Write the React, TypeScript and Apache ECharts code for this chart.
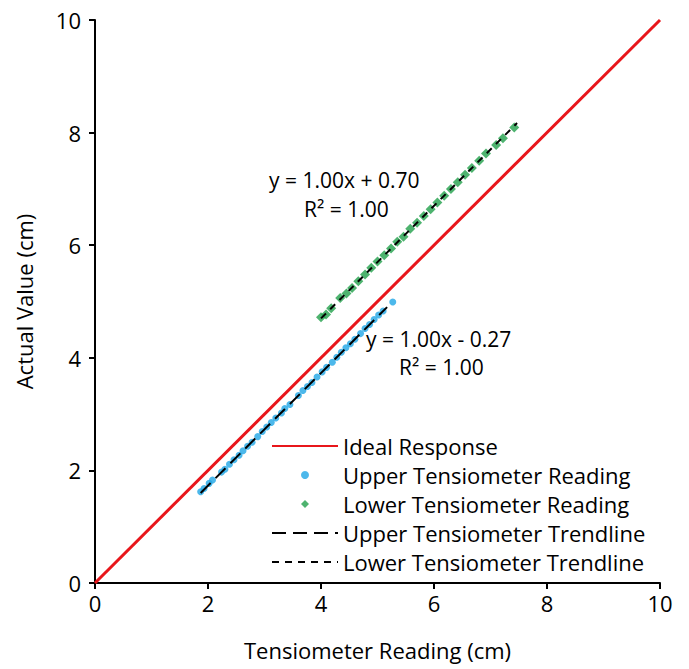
import React, { useEffect, useRef } from "react";
import * as echarts from "echarts";

const xTicks = [0, 2, 4, 6, 8, 10];

const idealResponse: [number, number][] = [
  [0, 0],
  [10, 10],
];

const upperReading: [number, number][] = [
  [1.87, 1.62], [1.93, 1.68], [2.02, 1.77], [2.08, 1.83], [2.24, 1.97],
  [2.3, 2.02], [2.38, 2.11], [2.46, 2.19], [2.55, 2.27], [2.62, 2.35],
  [2.7, 2.43], [2.78, 2.5], [2.88, 2.6], [2.96, 2.69], [3.04, 2.77],
  [3.12, 2.85], [3.2, 2.93], [3.3, 3.02], [3.36, 3.1], [3.45, 3.17],
  [3.6, 3.33], [3.68, 3.42], [3.76, 3.49], [3.84, 3.56], [3.93, 3.66],
  [4.02, 3.75], [4.1, 3.83], [4.2, 3.92], [4.28, 4.01], [4.36, 4.1],
  [4.44, 4.18], [4.52, 4.25], [4.6, 4.33], [4.7, 4.43], [4.78, 4.52],
  [4.86, 4.59], [4.94, 4.68], [5.02, 4.76], [5.1, 4.83], [5.27, 4.99],
];

const lowerReading: [number, number][] = [
  [4.0, 4.72], [4.09, 4.77], [4.18, 4.88], [4.34, 5.06],
  [4.45, 5.14], [4.55, 5.24], [4.66, 5.36], [4.78, 5.48],
  [4.89, 5.6], [5.0, 5.71], [5.12, 5.82], [5.24, 5.94],
  [5.35, 6.06], [5.46, 6.15], [5.58, 6.29], [5.7, 6.4],
  [5.82, 6.52], [5.94, 6.64], [6.06, 6.76], [6.18, 6.88],
  [6.3, 7.0], [6.42, 7.12], [6.55, 7.25], [6.67, 7.37],
  [6.8, 7.5], [6.92, 7.63], [7.1, 7.78], [7.22, 7.9], [7.42, 8.09],
];

const upperTrend: [number, number][] = [
  [1.87, 1.6],
  [5.17, 4.9],
];

const lowerTrend: [number, number][] = [
  [4.0, 4.7],
  [7.47, 8.17],
];

const FONT = "'Open Sans', sans-serif";
const FS = 22;

export default function App() {
  const ref = useRef<HTMLDivElement>(null);
  useEffect(() => {
    if (!ref.current) return;
    const chart = echarts.init(ref.current, null, { renderer: "svg" });
    const hideSym = { itemStyle: { opacity: 0 } };
    chart.setOption({
      animation: false,
      backgroundColor: "#ffffff",
      textStyle: { fontFamily: FONT, color: "#000" },
      grid: { left: 95, right: 29, top: 20, bottom: 86, containLabel: false },
      xAxis: {
        type: "value",
        min: xTicks[0],
        max: xTicks[xTicks.length - 1],
        interval: 2,
        name: "Tensiometer Reading (cm)",
        nameLocation: "middle",
        nameGap: 56,
        nameTextStyle: { fontSize: FS, color: "#000", fontFamily: FONT },
        axisLine: { lineStyle: { color: "#000", width: 2 } },
        axisTick: { show: true, length: 6, lineStyle: { color: "#000", width: 2 } },
        axisLabel: { fontSize: FS, color: "#000", margin: 9, fontFamily: FONT },
        splitLine: { show: false },
      },
      yAxis: {
        type: "value",
        min: 0,
        max: 10,
        interval: 2,
        name: "Actual Value (cm)",
        nameLocation: "middle",
        nameGap: 60,
        nameRotate: 90,
        nameTextStyle: { fontSize: FS, color: "#000", fontFamily: FONT },
        axisLine: { show: true, lineStyle: { color: "#000", width: 2 } },
        axisTick: { show: true, length: 6, lineStyle: { color: "#000", width: 2 } },
        axisLabel: { fontSize: FS, color: "#000", margin: 14, fontFamily: FONT },
        splitLine: { show: false },
      },
      legend: {
        orient: "vertical",
        left: 266,
        top: 430,
        itemWidth: 66,
        itemHeight: 8,
        itemGap: 7,
        symbolKeepAspect: true,
        textStyle: { fontSize: FS, color: "#000", fontFamily: FONT },
        data: [
          { name: "Ideal Response", ...hideSym },
          { name: "Upper Tensiometer Reading", icon: "circle" },
          { name: "Lower Tensiometer Reading", icon: "path://M5,0 L10,5 L5,10 L0,5 Z" },
          { name: "Upper Tensiometer Trendline", ...hideSym },
          { name: "Lower Tensiometer Trendline", ...hideSym },
        ],
      },
      graphic: [
        { type: "text", left: 269, top: 169, style: { text: "y = 1.00x + 0.70", fontSize: 21, fill: "#000", fontFamily: FONT } },
        { type: "text", left: 304, top: 198, style: { text: "R² = 1.00", fontSize: 21, fill: "#000", fontFamily: FONT } },
        { type: "text", left: 366, top: 328, style: { text: "y = 1.00x - 0.27", fontSize: 21, fill: "#000", fontFamily: FONT } },
        { type: "text", left: 399, top: 356, style: { text: "R² = 1.00", fontSize: 21, fill: "#000", fontFamily: FONT } },
      ],
      series: [
        {
          name: "Ideal Response",
          type: "line",
          data: idealResponse,
          showSymbol: false,
          symbol: "none",
          lineStyle: { color: "#e8161b", width: 3 },
          itemStyle: { color: "#e8161b" },
          z: 1,
        },
        {
          name: "Upper Tensiometer Reading",
          type: "scatter",
          data: upperReading,
          symbol: "circle",
          symbolSize: 7,
          itemStyle: { color: "#1fa6e6" },
          z: 2,
        },
        {
          name: "Lower Tensiometer Reading",
          type: "scatter",
          data: lowerReading,
          symbol: "diamond",
          symbolSize: 10,
          itemStyle: { color: "#22a04b" },
          z: 2,
        },
        {
          name: "Upper Tensiometer Trendline",
          type: "line",
          data: upperTrend,
          showSymbol: false,
          symbol: "none",
          lineStyle: { color: "#000", width: 2, type: [14, 7] },
          itemStyle: { color: "#000" },
          z: 3,
        },
        {
          name: "Lower Tensiometer Trendline",
          type: "line",
          data: lowerTrend,
          showSymbol: false,
          symbol: "none",
          lineStyle: { color: "#000", width: 2, type: [7, 6] },
          itemStyle: { color: "#000" },
          z: 3,
        },
      ],
    });
    return () => chart.dispose();
  }, []);
  return (
    <div
      ref={ref}
      style={{ position: "fixed", left: 0, top: 0, width: 689, height: 669, background: "#fff" }}
    />
  );
}
